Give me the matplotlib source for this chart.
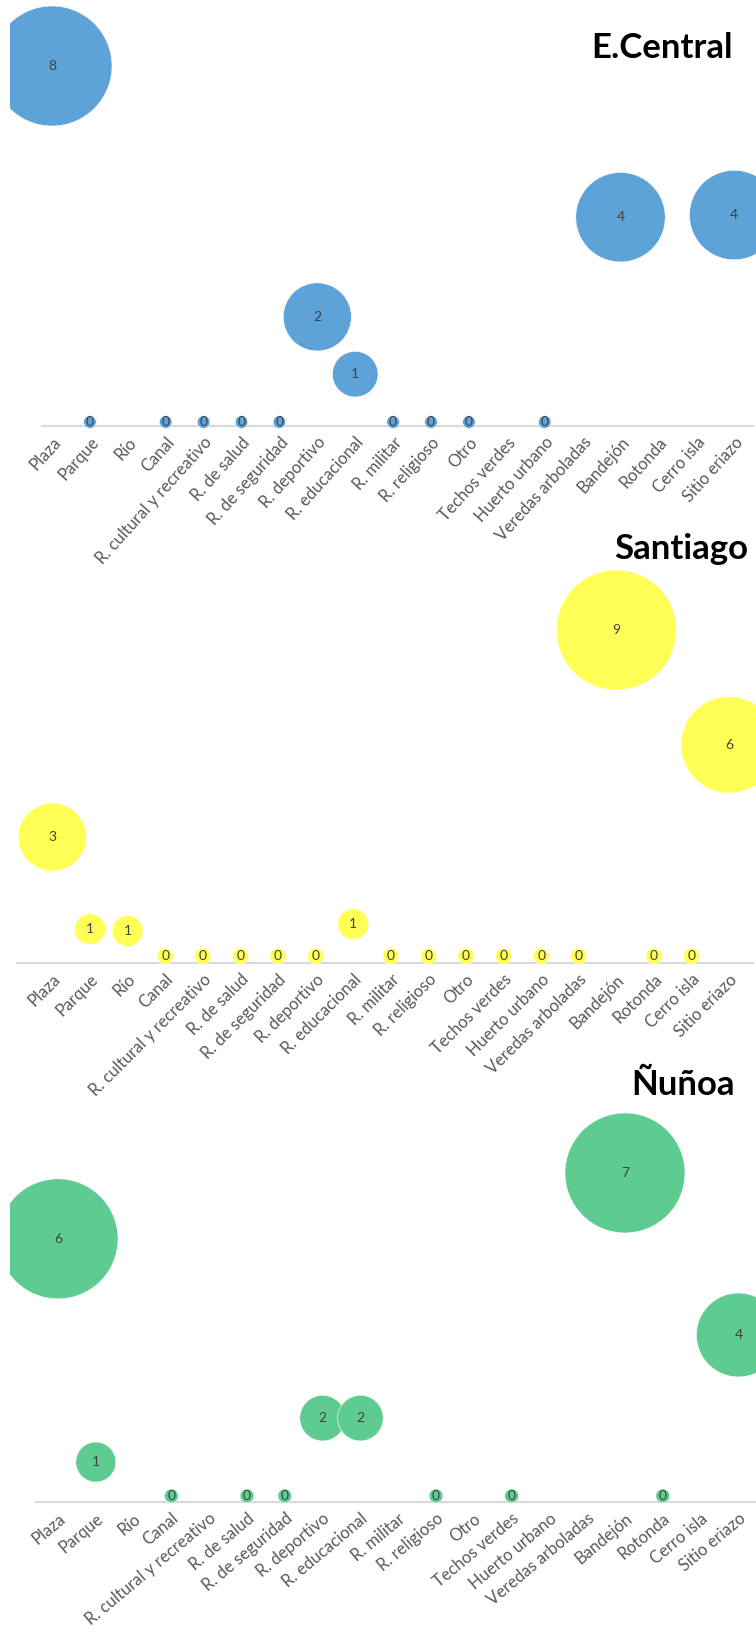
import matplotlib
matplotlib.use('Agg')
import matplotlib.pyplot as plt
from matplotlib.transforms import Bbox, TransformedBbox
import numpy as np

nan = np.nan

categorias = ["Plaza", "Parque", "Río", "Canal", "R. cultural y recreativo", "R. de salud",
              "R. de seguridad", "R. deportivo", "R. educacional", "R. militar", "R. religioso",
              "Otro", "Techos verdes", "Huerto urbano", "Veredas arboladas", "Bandejón",
              "Rotonda", "Cerro isla", "Sitio eriazo"]

# etiqueta (cantidad), posicion vertical y tamano de burbuja por comuna
ec_valores = [8, 0, nan, 0, 0, 0, 0, 2, 1, 0, 0, 0, nan, 0, nan, 4, nan, nan, 4]
ec_y = [10.0, 0.11, nan, 0.11, 0.11, 0.11, 0.11, 3.03, 1.44, 0.11, 0.11, 0.11, nan, 0.11, nan, 5.8, nan, nan, 5.86]
ec_tam = [9, 0.1, nan, 0.1, 0.1, 0.1, 0.1, 2.9, 1.3, 0.1, 0.1, 0.1, nan, 0.1, nan, 5.0, nan, nan, 5.0]

st_valores = [3, 1, 1, 0, 0, 0, 0, 0, 1, 0, 0, 0, 0, 0, 0, 9, 0, 0, 6]
st_y = [3.5, 0.94, 0.89, 0.19, 0.19, 0.19, 0.19, 0.19, 1.08, 0.19, 0.19, 0.19, 0.19, 0.19, 0.19, 9.25, 0.19, 0.19, 6.06]
st_tam = [2.9, 0.6, 0.6, 0.16, 0.16, 0.16, 0.16, 0.16, 0.6, 0.16, 0.16, 0.16, 0.16, 0.16, 0.16, 9, 0.16, 0.16, 5.8]

nu_valores = [6, 1, nan, 0, nan, 0, 0, 2, 2, nan, 0, nan, 0, nan, nan, 7, 0, nan, 4]
nu_y = [7.31, 1.11, nan, 0.17, nan, 0.17, 0.17, 2.33, 2.33, nan, 0.17, nan, 0.17, nan, nan, 9.14, 0.17, nan, 4.64]
nu_tam = [9, 1.0, nan, 0.12, nan, 0.12, 0.12, 1.3, 1.3, nan, 0.12, nan, 0.12, nan, nan, 9, 0.12, nan, 4.4]

W, H = 756, 1634
DPI = 100
PX_UNIDAD = 36.0  # pixeles por unidad vertical

plt.rcParams['font.family'] = ['Lato', 'DejaVu Sans']

# titulo, valores, y, tamanos, color, (izq, der, eje_y, arriba), x Plaza, paso, (titulo_x, titulo_y), giro etiquetas
paneles = [
    ("E.Central", ec_valores, ec_y, ec_tam, '#5DA3D8', (42, 753, 426, 0), 52, 37.9, (733, 48), 48),
    ("Santiago", st_valores, st_y, st_tam, '#FFFF55', (17, 753, 963, 500), 52.4, 37.6, (748, 549), 45),
    ("Ñuñoa", nu_valores, nu_y, nu_tam, '#5ECC91', (36, 756, 1502, 1040), 58, 37.8, (735, 1085), 40),
]

fig = plt.figure(figsize=(W / DPI, H / DPI), dpi=DPI)
clip = TransformedBbox(Bbox([[10.0 / W, 0], [1, 1]]), fig.transFigure)

for titulo, valores, ys, tams, color, (izq, der, eje, arriba), x0, paso, (tx, ty), giro in paneles:
    ax = fig.add_axes([izq / W, 1 - eje / H, (der - izq) / W, (eje - arriba) / H])
    ax.set_xlim((izq - x0) / paso, (der - x0) / paso)
    ax.set_ylim(0, (eje - arriba) / PX_UNIDAD)

    x = np.arange(len(categorias))
    v = np.array(valores, dtype=float)
    y = np.array(ys, dtype=float)
    t = np.array(tams, dtype=float)
    ok = ~np.isnan(v)
    # radio en px = 20*sqrt(tamano)
    s = (2 * 20 * np.sqrt(t[ok]) * 72.0 / DPI) ** 2
    sc = ax.scatter(x[ok], y[ok], s=s, c=color, edgecolors='white', linewidths=0.4, zorder=3)
    sc.set_clip_box(clip)

    for xi, yi, vi in zip(x[ok], y[ok], v[ok]):
        ax.text(xi, yi, str(int(vi)), ha='center', va='center', fontsize=10,
                color='#404040', zorder=4, clip_on=False)

    for lado in ('top', 'left', 'right'):
        ax.spines[lado].set_visible(False)
    ax.spines['bottom'].set_color('#D9D9D9')
    ax.spines['bottom'].set_linewidth(1.5)
    ax.spines['bottom'].set_zorder(1)
    ax.set_yticks([])
    ax.set_xticks(x)
    ax.set_xticklabels(categorias, rotation=giro, ha='right', rotation_mode='anchor',
                       fontsize=12, color='#595959')
    ax.tick_params(axis='x', length=0, pad=6)
    ax.patch.set_visible(False)

    fig.text(tx / W, 1 - ty / H, titulo, ha='right', va='center', fontsize=25,
             fontweight='bold', color='black')

fig.savefig('out.png', dpi=DPI)
